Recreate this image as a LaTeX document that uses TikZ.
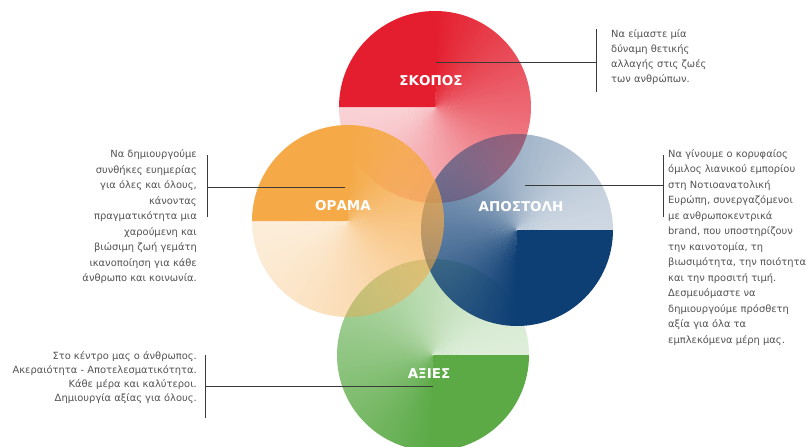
\documentclass[tikz,border=0pt]{standalone}
\usepackage{fontspec}
\setmainfont{DejaVu Sans}
\usetikzlibrary{fadings}
\definecolor{cRed}{HTML}{E41E2E}
\definecolor{cOrange}{HTML}{F5A947}
\definecolor{cBlue}{HTML}{0D3E74}
\definecolor{cGreen}{HTML}{5BAA46}
\definecolor{textGray}{HTML}{535353}
\definecolor{lineGray}{HTML}{3A3A3A}
% conic fading: fade starts at angle #1 (clockwise on screen), solid quarter before it
\newcommand{\myconicwedges}[1]{%
  \useasboundingbox (-100,-100) rectangle (100,100);
  \clip (-100,-100) rectangle (100,100);
  \foreach \i in {0,...,134}{%
    \pgfmathsetmacro\myang{#1+2*\i}%
    \pgfmathsetmacro\myangb{#1+2*\i+2.8}%
    \pgfmathsetmacro\mytr{100*(1-(0.2+0.8*(1-(\i+0.5)/135)^1.3))}%
    \fill[transparent!\mytr] (0,0) -- (\myang:300) -- (\myangb:300) -- cycle;
  }
  \fill[transparent!0] (0,0) -- (#1-90:300) -- (#1-45:300) -- (#1+0.5:300) -- cycle;
}
\begin{tikzfadingfrompicture}[name=conicA,x=1pt,y=-1pt]
  \myconicwedges{270}
\end{tikzfadingfrompicture}
\begin{tikzfadingfrompicture}[name=conicB,x=1pt,y=-1pt]
  \myconicwedges{90}
\end{tikzfadingfrompicture}
\begin{document}
\begin{tikzpicture}[x=1pt,y=-1pt,
  lbl/.style={text=white,inner sep=0pt,font=\bfseries\fontsize{13.5}{16}\selectfont},
  body/.style={text=textGray,inner sep=0pt},
  conn/.style={draw=lineGray,line width=1pt}]
\useasboundingbox (0,0) rectangle (807,447);
\fill[white] (0,0) rectangle (807,447);
% circles
\fill[cRed, path fading=conicA] (435,107) circle[radius=96];
\fill[cGreen, path fading=conicB] (433,355) circle[radius=96];
\fill[cBlue, path fading=conicB] (517,230) circle[radius=96];
\fill[cOrange, path fading=conicA] (348,221) circle[radius=96];
% labels
\node[lbl] (skopos) at (431,81) {ΣΚΟΠΟΣ};
\node[lbl] (orama) at (343,206) {ΟΡΑΜΑ};
\node[lbl] (apostoli) at (521,207) {ΑΠΟΣΤΟΛΗ};
\node[lbl] (axies) at (429,374) {ΑΞΙΕΣ};
% connector points
\coordinate (skIn) at (436,62);
\coordinate (skJ) at (596,62);
\coordinate (skT) at (596,29);
\coordinate (skB) at (596,92);
\coordinate (orIn) at (345,187);
\coordinate (orJ) at (207,187);
\coordinate (orT) at (207,155);
\coordinate (orB) at (207,217);
\coordinate (apIn) at (525,185);
\coordinate (apJ) at (663,185);
\coordinate (apT) at (663,155);
\coordinate (apB) at (663,217);
\coordinate (axIn) at (433,386);
\coordinate (axJ) at (205,386);
\coordinate (axT) at (205,355);
\coordinate (axB) at (205,418);
\draw[conn] (skIn) -- (skJ);
\draw[conn] (skT) -- (skB);
\draw[conn] (orIn) -- (orJ);
\draw[conn] (orT) -- (orB);
\draw[conn] (apIn) -- (apJ);
\draw[conn] (apT) -- (apB);
\draw[conn] (axIn) -- (axJ);
\draw[conn] (axT) -- (axB);
% texts
\node[body, anchor=north west, align=left, font=\fontsize{9.9}{15}\selectfont] (skText) at (611,29)
  {Να είμαστε μία\\δύναμη θετικής\\αλλαγής στις ζωές\\των ανθρώπων.};
\node[body, anchor=north east, align=right, font=\fontsize{9.9}{15.5}\selectfont] (orText) at (197,149.5)
  {Να δημιουργούμε\\συνθήκες ευημερίας\\για όλες και όλους,\\κάνοντας\\πραγματικότητα μια\\χαρούμενη και\\βιώσιμη ζωή γεμάτη\\ικανοποίηση για κάθε\\άνθρωπο και κοινωνία.};
\node[body, anchor=north west, align=left, font=\fontsize{9.9}{15.5}\selectfont] (apText) at (668,149)
  {Να γίνουμε ο κορυφαίος\\όμιλος λιανικού εμπορίου\\στη Νοτιοανατολική\\Ευρώπη, συνεργαζόμενοι\\με ανθρωποκεντρικά\\brand, που υποστηρίζουν\\την καινοτομία, τη\\βιωσιμότητα, την ποιότητα\\και την προσιτή τιμή.\\Δεσμευόμαστε να\\δημιουργούμε πρόσθετη\\αξία για όλα τα\\εμπλεκόμενα μέρη μας.};
\node[body, anchor=north east, align=right, font=\fontsize{9.9}{14.2}\selectfont] (axText) at (197,351)
  {Στο κέντρο μας ο άνθρωπος.\\Ακεραιότητα - Αποτελεσματικότητα.\\Κάθε μέρα και καλύτεροι.\\Δημιουργία αξίας για όλους.};
\end{tikzpicture}
\end{document}
